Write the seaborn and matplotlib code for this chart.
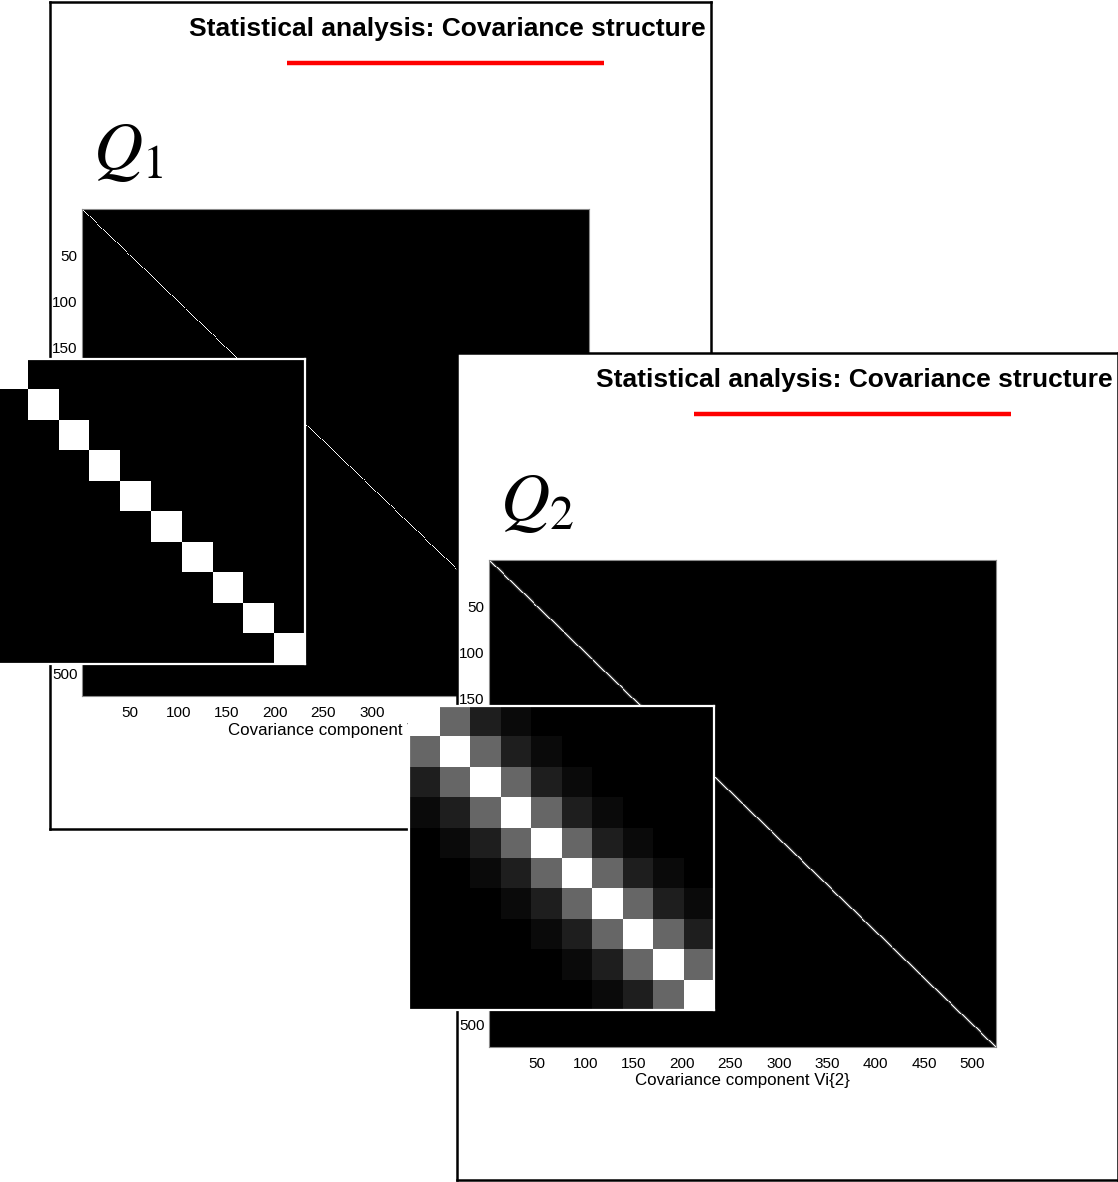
import numpy as np
import matplotlib
matplotlib.use("Agg")
import matplotlib.pyplot as plt
import seaborn as sns

# ---------------- data ----------------
title_text = "Statistical analysis: Covariance structure"
panel_labels = [r"$Q_1$", r"$Q_2$"]
axis_labels = ["Covariance component Vi{1}", "Covariance component Vi{2}"]
n_components = 524
tick_values = [50, 100, 150, 200, 250, 300, 350, 400, 450, 500]
band_q1 = [1.0]                          # identity covariance
band_q2 = [1.0, 0.4, 0.12, 0.04, 0.0]    # banded (smooth) covariance
inset_size = 10


def banded(band, n):
    d = np.abs(np.subtract.outer(np.arange(n), np.arange(n)))
    b = np.zeros(n)
    b[:len(band)] = band
    return b[d]


Q1 = banded(band_q1, n_components)
Q2 = banded(band_q2, n_components)
matrices = [Q1, Q2]

# ---------------- style ----------------
sns.set_theme(style="white")
plt.rcParams["font.family"] = ["Liberation Sans", "DejaVu Sans"]
plt.rcParams["mathtext.fontset"] = "stix"

W, H = 1118, 1182
fig = plt.figure(figsize=(W / 100, H / 100), dpi=100)
fig.patch.set_facecolor("white")


def rect(x0, y0, x1, y1):
    return [x0 / W, 1 - y1 / H, (x1 - x0) / W, (y1 - y0) / H]


def draw_heat(ax, mat, ticks=True, edge="#8a8a8a", lw=0.8):
    sns.heatmap(mat, ax=ax, cmap="gray", vmin=0, vmax=1, cbar=False,
                xticklabels=False, yticklabels=False, square=False)
    for sp in ax.spines.values():
        sp.set_visible(True)
        sp.set_color(edge)
        sp.set_linewidth(lw)
    if ticks:
        pos = np.array(tick_values) - 0.5
        ax.set_xticks(pos)
        ax.set_xticklabels([str(v) for v in tick_values], rotation=0)
        ax.set_yticks(pos)
        ax.set_yticklabels([str(v) for v in tick_values], rotation=0)
        ax.tick_params(axis="x", length=0, labelsize=11, pad=7, colors="black")
        ax.tick_params(axis="y", length=0, labelsize=11, pad=3, colors="black")
    else:
        ax.set_xticks([])
        ax.set_yticks([])


def draw_panel(k, dx, dy):
    x0, y0, x1, y1 = 50 + dx, 2 + dy, 711 + dx, 829 + dy
    fr = fig.add_axes(rect(x0, y0, x1, y1))
    fr.set_facecolor("white")
    fr.set_xlim(x0, x1)
    fr.set_ylim(y1, y0)
    fr.set_xticks([])
    fr.set_yticks([])
    for sp in fr.spines.values():
        sp.set_color("black")
        sp.set_linewidth(1.8)
    fr.text(706 + dx, 36 + dy, title_text, ha="right", va="baseline",
            fontsize=19, fontweight="bold", color="black")
    fr.hlines(63 + dy, 287 + dx, 604 + dx, color="red", linewidth=3.2)
    fr.text(93 + dx, 169 + dy, panel_labels[k], ha="left", va="baseline",
            fontsize=49, color="black")

    hx0, hy0, hx1, hy1 = 82 + dx, 209 + dy, 589 + dx, 696 + dy
    hm = fig.add_axes(rect(hx0, hy0, hx1, hy1))
    draw_heat(hm, matrices[k])
    hm.set_xlabel(axis_labels[k], fontsize=12.2, labelpad=2, color="black")


def draw_inset(k, box):
    ax = fig.add_axes(rect(*box))
    draw_heat(ax, matrices[k][:inset_size, :inset_size], ticks=False,
              edge="white", lw=1.6)


draw_panel(0, 0, 0)
draw_inset(0, (-3, 359, 305, 664))
draw_panel(1, 407, 351)
draw_inset(1, (409, 706, 714, 1010))

fig.savefig("out.png", dpi=100)
